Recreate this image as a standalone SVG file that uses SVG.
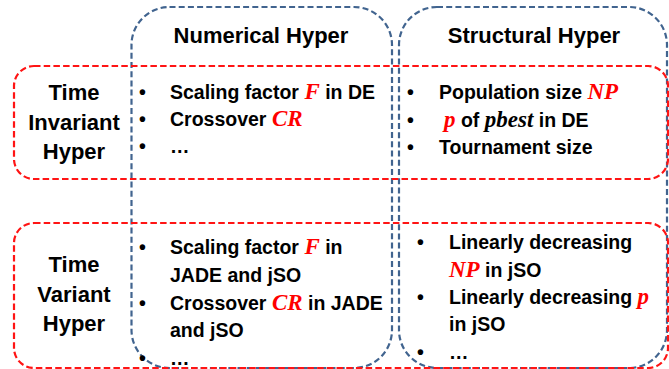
<svg xmlns="http://www.w3.org/2000/svg" width="669" height="369" viewBox="0 0 669 369">
<style>
.col{fill:none;stroke:#41648F;stroke-width:2.2;stroke-dasharray:6 3.2}
.row{fill:none;stroke:#FF1414;stroke-width:2.2;stroke-dasharray:6.5 3.2}
text{font-family:"Liberation Sans",Arial,sans-serif;font-weight:bold;fill:#000}
.h{font-size:22px;text-anchor:middle}
.b{font-size:19.5px}
.m{font-family:"Liberation Serif","Times New Roman",serif;font-style:italic;font-weight:bold;font-size:23px}
.r{fill:#FF0000}
</style>
<rect width="669" height="369" fill="#fff"/>
<g id="col-numerical">
<rect class="col" x="131.5" y="7" width="260.5" height="361" rx="38" ry="38"/>
<text class="h" x="261" y="43">Numerical Hyper</text>
</g>
<g id="col-structural">
<rect class="col" x="399" y="7" width="268" height="361" rx="38" ry="38"/>
<text class="h" x="534" y="43">Structural Hyper</text>
</g>
<g id="row-invariant">
<rect class="row" x="14" y="66" width="654" height="113" rx="20" ry="20"/>
<text class="h" x="74" y="100">Time</text>
<text class="h" x="74" y="130">Invariant</text>
<text class="h" x="74" y="159">Hyper</text>
</g>
<g id="row-variant">
<rect class="row" x="14" y="223" width="654" height="145" rx="20" ry="20"/>
<text class="h" x="74" y="272">Time</text>
<text class="h" x="74" y="302">Variant</text>
<text class="h" x="74" y="331">Hyper</text>
</g>
<g id="cell-num-inv">
<text class="b" x="139" y="99">•</text>
<text class="b" x="170" y="99">Scaling factor <tspan class="m r">F</tspan> in DE</text>
<text class="b" x="139" y="126">•</text>
<text class="b" x="170" y="126">Crossover <tspan class="m r">CR</tspan></text>
<text class="b" x="139" y="153">•</text>
<text class="b" x="170" y="153">…</text>
</g>
<g id="cell-str-inv">
<text class="b" x="407" y="99">•</text>
<text class="b" x="439" y="99">Population size <tspan class="m r">NP</tspan></text>
<text class="b" x="407" y="127">•</text>
<text class="b" x="444" y="127"><tspan class="m r">p</tspan> of <tspan class="m">pbest</tspan> in DE</text>
<text class="b" x="407" y="154">•</text>
<text class="b" x="439" y="154">Tournament size</text>
</g>
<g id="cell-num-var">
<text class="b" x="139" y="254">•</text>
<text class="b" x="170" y="254">Scaling factor <tspan class="m r">F</tspan> in</text>
<text class="b" x="170" y="282">JADE and jSO</text>
<text class="b" x="139" y="310">•</text>
<text class="b" x="170" y="310">Crossover <tspan class="m r">CR</tspan> in JADE</text>
<text class="b" x="170" y="337">and jSO</text>
<text class="b" x="139" y="365">•</text>
<text class="b" x="170" y="365">…</text>
</g>
<g id="cell-str-var">
<text class="b" x="417" y="249">•</text>
<text class="b" x="449" y="249">Linearly decreasing</text>
<text class="b" x="449" y="277"><tspan class="m r">NP</tspan> in jSO</text>
<text class="b" x="417" y="304">•</text>
<text class="b" x="449" y="304">Linearly decreasing <tspan class="m r">p</tspan></text>
<text class="b" x="449" y="331">in jSO</text>
<text class="b" x="417" y="359">•</text>
<text class="b" x="449" y="359">…</text>
</g>
<g id="connectors"/>
</svg>
